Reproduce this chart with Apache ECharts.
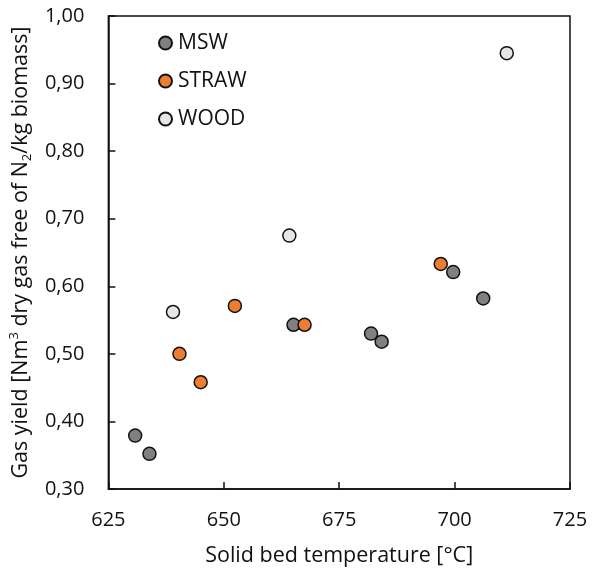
<!DOCTYPE html>
<html>
<head>
<meta charset="utf-8">
<script src="https://cdn.jsdelivr.net/npm/echarts@6/dist/echarts.min.js"></script>
<style>
  html, body { margin: 0; padding: 0; background: #fff; }
  #chart { width: 592px; height: 572px; }
</style>
</head>
<body>
<div id="chart"></div>
<script>
// Gas yield vs. solid bed temperature, per feedstock
const seriesNames = ['MSW', 'STRAW', 'WOOD'];

// [temperature °C, gas yield Nm3/kg]
const mswData = [
  [630.8, 0.379], [633.9, 0.352], [665.1, 0.543], [681.9, 0.530],
  [684.2, 0.518], [699.7, 0.621], [706.2, 0.582]
];
const strawData = [
  [640.4, 0.500], [645.0, 0.458], [652.4, 0.571], [667.5, 0.543],
  [697.0, 0.633]
];
const woodData = [
  [639.0, 0.562], [664.2, 0.675], [711.3, 0.945]
];

const xTicks = [625, 650, 675, 700, 725];
const yTicks = [0.30, 0.40, 0.50, 0.60, 0.70, 0.80, 0.90, 1.00];

const colors = ['#808080', '#ED7D31', '#E7E6E6'];
const font = '"Open Sans", sans-serif';
const ink = '#111';

const chart = echarts.init(document.getElementById('chart'));

const makeSeries = (name, data, color) => ({
  name: name,
  type: 'scatter',
  data: data,
  symbol: 'circle',
  symbolSize: 13,
  itemStyle: { color: color, borderColor: '#111', borderWidth: 1.5, opacity: 1 },
  emphasis: { disabled: true }
});

chart.setOption({
  animation: false,
  backgroundColor: '#fff',
  grid: {
    left: 108, right: 22, top: 16, bottom: 82,
    show: true, borderColor: '#111', borderWidth: 1.5, backgroundColor: 'transparent'
  },
  legend: {
    orient: 'vertical',
    left: 158, top: 32,
    padding: 0,
    itemWidth: 13, itemHeight: 13,
    itemGap: 16,
    icon: 'circle',
    data: seriesNames,
    textStyle: { fontFamily: font, fontSize: 21, lineHeight: 22, color: ink, padding: [0, 0, 0, 1] }
  },
  xAxis: {
    type: 'value',
    min: xTicks[0], max: xTicks[xTicks.length - 1], interval: 25,
    name: 'Solid bed temperature [°C]',
    nameLocation: 'middle',
    nameGap: 56,
    nameTextStyle: { fontFamily: font, fontSize: 21.5, color: ink },
    axisLine: { show: true, onZero: false, lineStyle: { color: '#111', width: 1.5 } },
    axisTick: { show: true, inside: true, length: 7, lineStyle: { color: '#111', width: 1.5 } },
    axisLabel: { fontFamily: font, fontSize: 20, color: ink, margin: 21, showMinLabel: true, showMaxLabel: true },
    splitLine: { show: false }
  },
  yAxis: {
    type: 'value',
    min: yTicks[0], max: yTicks[yTicks.length - 1], interval: 0.1,
    name: 'Gas yield [Nm{sup|3} dry gas free of N{sub|2}/kg biomass]',
    nameLocation: 'middle',
    nameGap: 69,
    nameTextStyle: {
      fontFamily: font, fontSize: 21.5, color: ink, lineHeight: 26,
      rich: {
        sup: { fontFamily: font, fontSize: 13, color: ink, verticalAlign: 'top', lineHeight: 26, padding: [0, 0, 6, 0] },
        sub: { fontFamily: font, fontSize: 13, color: ink, verticalAlign: 'bottom', lineHeight: 26, padding: [6, 0, 0, 0] }
      }
    },
    axisLine: { show: true, onZero: false, lineStyle: { color: '#111', width: 1.5 } },
    axisTick: { show: true, inside: true, length: 7, lineStyle: { color: '#111', width: 1.5 } },
    axisLabel: {
      fontFamily: font, fontSize: 20, color: ink, margin: 24,
      formatter: v => v.toFixed(2).replace('.', ',')
    },
    splitLine: { show: false }
  },
  series: [
    makeSeries(seriesNames[0], mswData, colors[0]),
    makeSeries(seriesNames[1], strawData, colors[1]),
    makeSeries(seriesNames[2], woodData, colors[2])
  ]
});
</script>
</body>
</html>
